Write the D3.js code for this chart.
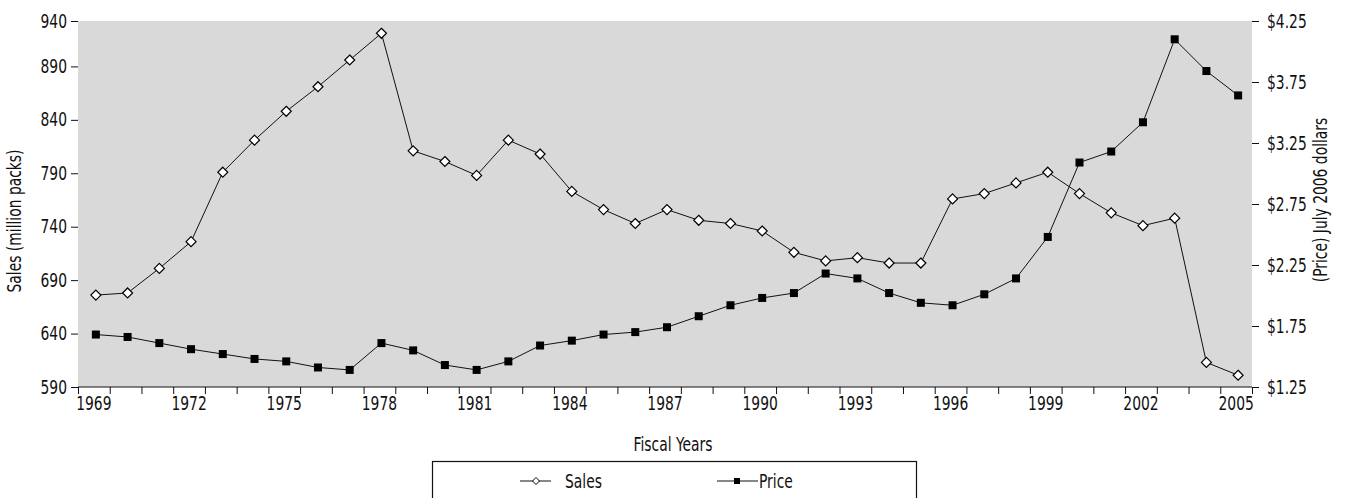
<!DOCTYPE html>
<html>
<head>
<meta charset="utf-8">
<script src="https://cdn.jsdelivr.net/npm/d3@7"></script>
<style>
  html, body { margin: 0; padding: 0; background: #fff; }
  svg { display: block; font-family: "DejaVu Sans", sans-serif; }
</style>
</head>
<body>
<script>
// fiscal years 1969-2005
const years = d3.range(1969, 2006);
const labelYears = d3.range(1969, 2006, 3);

// sales, million packs
const sales = [676, 678, 701, 726, 791, 821, 848, 871, 896, 921,
               811, 801, 788, 821, 808, 773, 756, 743, 756, 746,
               743, 736, 716, 708, 711, 706, 706, 766, 771, 781,
               791, 771, 753, 741, 748, 613, 601];

// price, July 2006 dollars
const price = [1.68, 1.66, 1.61, 1.56, 1.52, 1.48, 1.46, 1.41, 1.39, 1.61,
               1.55, 1.43, 1.39, 1.46, 1.59, 1.63, 1.68, 1.70, 1.74, 1.83,
               1.92, 1.98, 2.02, 2.18, 2.14, 2.02, 1.94, 1.92, 2.01, 2.14,
               2.48, 3.09, 3.18, 3.42, 4.10, 3.84, 3.64];

const salesTicks = [590, 640, 690, 740, 790, 840, 890];
const salesTopLabel = '940';
const priceTicks = [1.25, 1.75, 2.25, 2.75, 3.25, 3.75, 4.25];

const width = 1347, height = 498;
const margin = {top: 21, right: 95, bottom: 111, left: 78};
const ink = '#111';
const fontSize = 19;
const squeeze = 0.73; // the original uses a condensed face

const svg = d3.select('body').append('svg')
    .attr('width', width)
    .attr('height', height);

const x = d3.scaleBand()
    .domain(years)
    .range([margin.left, width - margin.right])
    .padding(0);
const xEdge = d3.scaleLinear()
    .domain([0, years.length])
    .range(x.range());
const yL = d3.scaleLinear()
    .domain([590, 932.5])
    .range([height - margin.bottom, margin.top]);
const yR = d3.scaleLinear()
    .domain([1.25, 4.25])
    .range([height - margin.bottom, margin.top]);

const cx = d => x(d) + x.bandwidth() / 2 + 2;

// plot background
svg.append('rect')
    .attr('x', margin.left)
    .attr('y', margin.top)
    .attr('width', width - margin.left - margin.right)
    .attr('height', height - margin.top - margin.bottom)
    .attr('fill', '#d9d9d9');

// left axis (top tick sits at the frame top and reads 940)
const leftTicks = salesTicks.concat([yL.domain()[1]]);
svg.append('g')
    .attr('transform', `translate(${margin.left},0)`)
    .call(d3.axisLeft(yL).tickValues(leftTicks).tickSize(7).tickPadding(4)
        .tickFormat((d, i) => i === leftTicks.length - 1 ? salesTopLabel : d))
    .call(g => g.select('.domain').remove());

// right axis
svg.append('g')
    .attr('transform', `translate(${width - margin.right},0)`)
    .call(d3.axisRight(yR).tickValues(priceTicks).tickSize(7).tickPadding(8)
        .tickFormat(d => '$' + d.toFixed(2)))
    .call(g => g.select('.domain').remove());

// x axis: tick marks on category edges, labels every third year
svg.append('g')
    .attr('transform', `translate(0,${height - margin.bottom})`)
    .call(d3.axisBottom(xEdge).tickValues(d3.range(0, years.length + 1))
        .tickSize(7).tickFormat(''))
    .call(g => g.select('.domain').attr('d', `M${x.range()[0]},0H${x.range()[1]}`));
svg.append('g')
    .attr('transform', `translate(0,${height - margin.bottom})`)
    .call(d3.axisBottom(x).tickValues(labelYears).tickSize(0).tickPadding(10))
    .call(g => g.select('.domain').remove());

svg.selectAll('g').attr('font-family', null).attr('font-size', null);
svg.selectAll('.tick text')
    .attr('font-size', fontSize)
    .attr('fill', ink);
svg.selectAll('.tick line, .domain')
    .attr('stroke', ink);

// axis titles
svg.append('text')
    .attr('transform', `translate(21,221) rotate(-90)`)
    .attr('text-anchor', 'middle')
    .attr('font-size', fontSize)
    .attr('fill', ink)
    .text('Sales (million packs)');
svg.append('text')
    .attr('transform', `translate(1327,200) rotate(-90)`)
    .attr('text-anchor', 'middle')
    .attr('font-size', fontSize)
    .attr('fill', ink)
    .text('(Price) July 2006 dollars');
svg.append('text')
    .attr('x', (x.range()[0] + x.range()[1]) / 2 + 8)
    .attr('y', 451)
    .attr('text-anchor', 'middle')
    .attr('font-size', fontSize)
    .attr('fill', ink)
    .text('Fiscal Years');

// lines
const salesLine = d3.line().x((d, i) => cx(years[i])).y(d => yL(d));
const priceLine = d3.line().x((d, i) => cx(years[i])).y(d => yR(d));

svg.append('path')
    .datum(price)
    .attr('d', priceLine)
    .attr('fill', 'none')
    .attr('stroke', ink)
    .attr('stroke-width', 1);
svg.append('path')
    .datum(sales)
    .attr('d', salesLine)
    .attr('fill', 'none')
    .attr('stroke', ink)
    .attr('stroke-width', 1);

// markers
const diamond = s => `M0,${-s}L${s},0L0,${s}L${-s},0Z`;
svg.append('g').selectAll('rect')
    .data(price)
    .join('rect')
    .attr('x', (d, i) => cx(years[i]) - 4)
    .attr('y', d => yR(d) - 4)
    .attr('width', 8)
    .attr('height', 8)
    .attr('fill', '#000');
svg.append('g').selectAll('path')
    .data(sales)
    .join('path')
    .attr('transform', (d, i) => `translate(${cx(years[i])},${yL(d)})`)
    .attr('d', diamond(5))
    .attr('fill', '#fff')
    .attr('stroke', '#000')
    .attr('stroke-width', 1.2);

// legend
const legend = svg.append('g');
legend.append('rect')
    .attr('x', 432.5)
    .attr('y', 461.5)
    .attr('width', 484)
    .attr('height', 60)
    .attr('fill', '#fff')
    .attr('stroke', ink)
    .attr('stroke-width', 1.2);

const legY = 481;
legend.append('line')
    .attr('x1', 520).attr('x2', 551).attr('y1', legY).attr('y2', legY)
    .attr('stroke', ink);
legend.append('path')
    .attr('transform', `translate(536,${legY})`)
    .attr('d', diamond(3.5))
    .attr('fill', '#fff')
    .attr('stroke', '#000')
    .attr('stroke-width', 1);
legend.append('text')
    .attr('x', 565).attr('y', legY + 7)
    .attr('font-size', fontSize).attr('fill', ink)
    .text('Sales');

legend.append('line')
    .attr('x1', 717).attr('x2', 758).attr('y1', legY).attr('y2', legY)
    .attr('stroke', ink);
legend.append('rect')
    .attr('x', 734).attr('y', legY - 3)
    .attr('width', 6).attr('height', 6)
    .attr('fill', '#000');
legend.append('text')
    .attr('x', 759).attr('y', legY + 7)
    .attr('font-size', fontSize).attr('fill', ink)
    .text('Price');

// narrow every label to mimic the condensed face of the original
svg.selectAll('text').each(function() {
  const len = this.getComputedTextLength();
  if (len > 0) {
    this.setAttribute('textLength', len * squeeze);
    this.setAttribute('lengthAdjust', 'spacingAndGlyphs');
  }
});
</script>
</body>
</html>
